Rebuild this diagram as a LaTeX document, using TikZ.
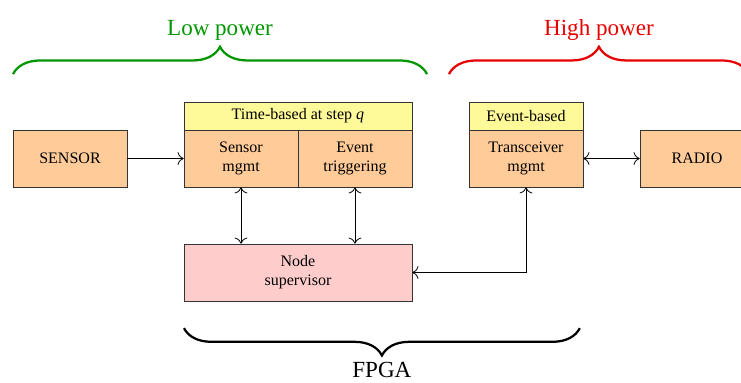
\documentclass[tikz,border=0pt]{standalone}
\usepackage{fontspec}
\setmainfont{Liberation Serif}
\usetikzlibrary{decorations.pathreplacing,arrows.meta}
\definecolor{lowgreen}{RGB}{0,150,0}
\definecolor{highred}{RGB}{230,0,0}
\begin{document}
\begin{tikzpicture}[
    block/.style={draw=black!80, fill=orange!40, minimum width=2.5cm, minimum height=1.25cm, align=center, inner sep=0pt},
    header/.style={draw=black!80, fill=yellow!40, minimum height=0.614cm, inner sep=0pt},
    supbox/.style={draw=black!80, fill=red!20, minimum width=5cm, minimum height=1.25cm, align=center, inner sep=0pt},
    bigbrace/.style={decorate, decoration={brace, amplitude=0.6cm}, line width=1.4pt},
    link/.style={line width=0.5pt},
    >={To[scale=1.4]}]
    \useasboundingbox (-0.285,-4.923) rectangle (15.965,3.476);
    % blocks
    \node[block] (sensor) at (1.25,0) {SENSOR};
    \node[block] (sensormgmt) at (5,0) {Sensor\\mgmt};
    \node[block] (evtrig) at (7.5,0) {Event\\triggering};
    \node[header, minimum width=5cm] (timebased) at (6.25,0.932) {Time-based at step \textit{q}};
    \node[block] (trxmgmt) at (11.25,0) {Transceiver\\mgmt};
    \node[header, minimum width=2.5cm] (eventbased) at (11.25,0.932) {Event-based};
    \node[block] (radio) at (15,0) {RADIO};
    \node[supbox] (nodesup) at (6.25,-2.5) {Node\\supervisor};
    % links
    \draw[link, ->] (sensor) -- (sensormgmt);
    \draw[link, <->] (sensormgmt.south) -- (sensormgmt.south |- nodesup.north);
    \draw[link, <->] (evtrig.south) -- (evtrig.south |- nodesup.north);
    \draw[link, <->] (nodesup.east) -| (trxmgmt.south);
    \draw[link, <->] (trxmgmt) -- (radio);
    % braces
    \draw[bigbrace, lowgreen] (0,1.85) -- (9.08,1.85)
        node[midway, above=0.6cm, text=lowgreen] {\Large Low power};
    \draw[bigbrace, highred] (9.56,1.85) -- (16.14,1.85)
        node[midway, above=0.6cm, text=highred] {\Large High power};
    \draw[bigbrace, black] (12.43,-3.72) -- (3.75,-3.72)
        node[midway, below=0.6cm] {\Large FPGA};
\end{tikzpicture}
\end{document}
